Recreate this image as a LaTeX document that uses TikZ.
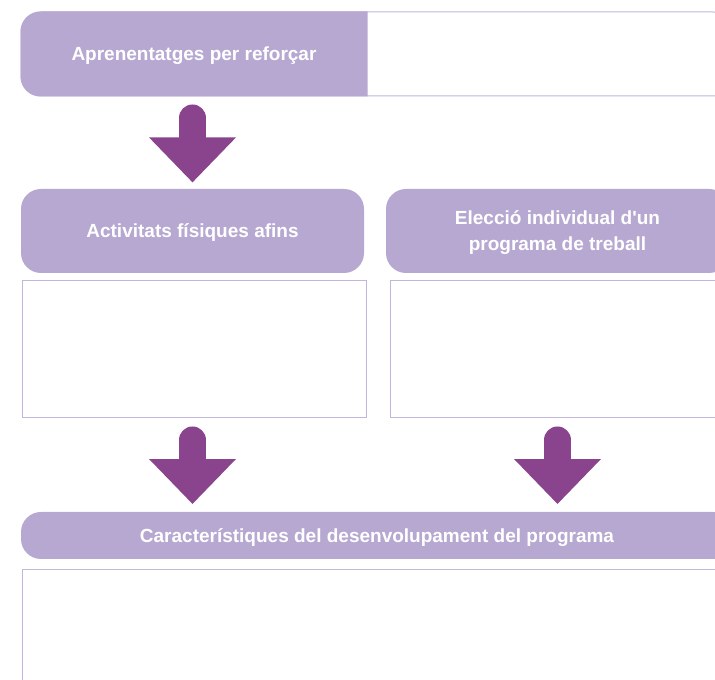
\documentclass[tikz,border=0pt]{standalone}
\usepackage{fontspec}
\setmainfont{Liberation Sans}[Ligatures=TeXOff]
\usetikzlibrary{arrows.meta,calc}
\definecolor{headfill}{HTML}{B7A8D1}
\definecolor{arrowfill}{HTML}{8A438D}
\definecolor{frameline}{HTML}{C3B6DD}

\begin{document}
\begin{tikzpicture}[x=1pt,y=1pt,
  headtext/.style={text=white, font=\fontsize{19}{26}\selectfont\bfseries, align=center,
    inner sep=0pt, text depth=0pt},
  header/.style={headtext, fill=headfill, rounded corners=20pt},
  textbox/.style={draw=frameline, line width=1pt, fill=white, inner sep=0pt},
  bigarrow/.style={draw=arrowfill, line width=27pt, line cap=round,
    -{Triangle[width=84pt,length=45pt,fill=arrowfill]}},
]
\useasboundingbox (0,0) rectangle (715,680);

% top row: label on the left, empty answer field on the right
\node[textbox, rounded corners=20pt, minimum width=712pt, minimum height=84pt] (topframe) at (377,626) {};
\fill[headfill] ([xshift=347pt]topframe.north west) -- ([xshift=20pt]topframe.north west)
  arc[start angle=90,end angle=180,radius=20pt] -- ([yshift=20pt]topframe.south west)
  arc[start angle=180,end angle=270,radius=20pt] -- ([xshift=347pt]topframe.south west) -- cycle;
\node[headtext] (learn) at ($(topframe.west)+(173.5,0)$) {Aprenentatges per reforçar};

% second row: two headings with their answer fields
\node[header, minimum width=343pt, minimum height=84pt] (act) at (192.5,449) {Activitats físiques afins};
\node[header, minimum width=343pt, minimum height=84pt] (elec) at (557.5,449) {Elecció individual d'un\\programa de treball};
\node[textbox, minimum width=344pt, minimum height=137pt] (actbox) at (194,330.5) {};
\node[textbox, minimum width=344pt, minimum height=137pt] (elecbox) at (562,330.5) {};

% bottom row
\node[header, minimum width=712pt, minimum height=47pt] (prog) at (377,144.5) {Característiques del desenvolupament del programa};
\node[textbox, minimum width=712pt, minimum height=140pt] (progbox) at (378,40) {};

% arrows
\coordinate (a1) at (act.north |- topframe.south);
\coordinate (a2) at (act.south |- actbox.south);
\coordinate (a3) at (elec.south |- elecbox.south);
\coordinate (t2) at (act.south |- prog.north);
\coordinate (t3) at (elec.south |- prog.north);
\draw[bigarrow] ([yshift=-21.5pt]a1) -- ([yshift=6.3pt]act.north);
\draw[bigarrow] ([yshift=-21.5pt]a2) -- ([yshift=7.7pt]t2);
\draw[bigarrow] ([yshift=-21.5pt]a3) -- ([yshift=7.7pt]t3);
\end{tikzpicture}
\end{document}
